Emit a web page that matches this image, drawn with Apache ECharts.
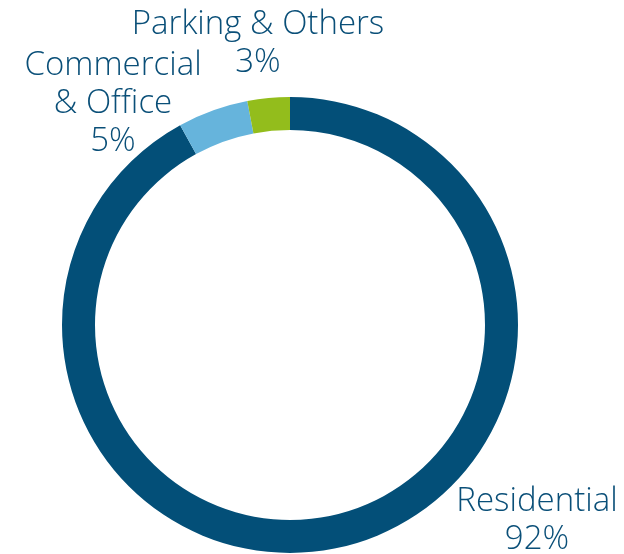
<!DOCTYPE html>
<html><head><meta charset="utf-8">
<script src="https://cdn.jsdelivr.net/npm/echarts@6/dist/echarts.min.js"></script>
<style>html,body{margin:0;padding:0;background:#fff}#c{width:624px;height:554px}</style>
</head><body><div id="c"></div>
<script>
const categories = ['Residential', 'Commercial\n& Office', 'Parking & Others'];
const values = [92, 5, 3];
const colors = ['#034f78', '#66b4dc', '#93bd1c'];
const labelPos = [[537, 521], [113, 104], [258, 44]];

const chart = echarts.init(document.getElementById('c'));
chart.setOption({
  animation: false,
  series: [{
    type: 'pie',
    center: [290, 325],
    radius: [195, 228],
    startAngle: 90,
    clockwise: true,
    data: categories.map((n, i) => ({name: n, value: values[i], itemStyle: {color: colors[i]}})),
    labelLine: {show: false},
    label: {
      show: true,
      position: 'outside',
      formatter: p => p.name + '\n' + p.value + '%',
      color: '#0a4f78',
      fontFamily: 'Open Sans',
      fontWeight: 300,
      fontSize: 33,
      lineHeight: 38,
      align: 'center',
      overflow: 'none',
      width: 400
    },
    labelLayout: p => ({x: labelPos[p.dataIndex][0], y: labelPos[p.dataIndex][1], align: 'center', verticalAlign: 'middle'})
  }]
});
</script></body></html>
